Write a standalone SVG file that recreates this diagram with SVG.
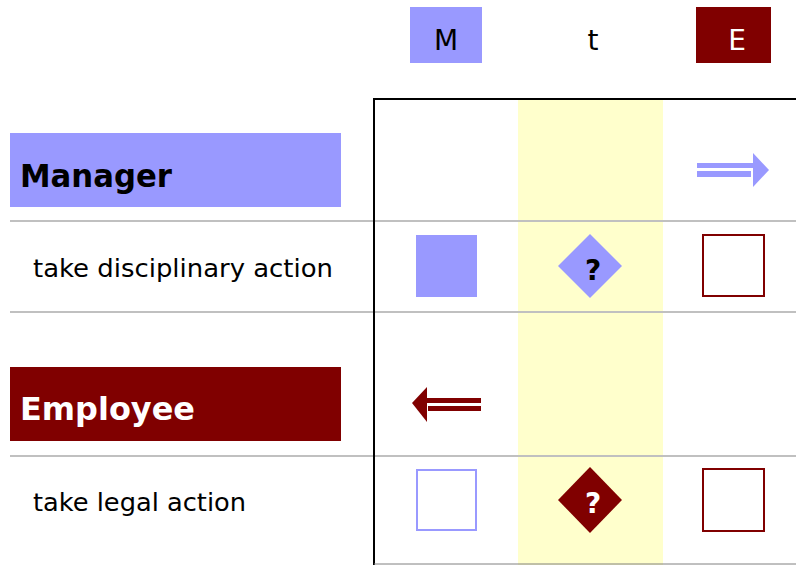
<svg xmlns="http://www.w3.org/2000/svg" width="796" height="565" viewBox="0 0 796 565">
<style>
  text { font-family: "DejaVu Sans", Verdana, sans-serif; }
  .lbl { font-size: 25px; fill: #000; }
  .hdr { font-size: 32px; font-weight: bold; }
  .col { font-size: 28px; text-anchor: middle; }
  .q { font-size: 28px; font-weight: bold; text-anchor: middle; }
  .sep { stroke: #c0c0c0; stroke-width: 2; }
</style>
<rect x="0" y="0" width="796" height="565" fill="#ffffff"/>
<rect x="518" y="100" width="145" height="465" fill="#ffffcc"/>
<g id="grid">
  <line class="sep" x1="10" y1="221" x2="796" y2="221"/>
  <line class="sep" x1="10" y1="312" x2="796" y2="312"/>
  <line class="sep" x1="10" y1="456" x2="796" y2="456"/>
  <line x1="373" y1="99" x2="796" y2="99" stroke="#000" stroke-width="2"/>
  <line x1="374" y1="98" x2="374" y2="565" stroke="#000" stroke-width="2"/>
  <line x1="374" y1="564" x2="796" y2="564" stroke="#808080" stroke-width="1"/>
</g>
<g id="colM">
  <rect x="410" y="7" width="72" height="56" fill="#9999ff"/>
  <text class="col" x="446" y="50" fill="#000">M</text>
</g>
<g id="colT">
  <text class="col" x="593" y="50" fill="#000">t</text>
</g>
<g id="colE">
  <rect x="696" y="7" width="75" height="56" fill="#800000"/>
  <text class="col" x="737" y="50" fill="#fff">E</text>
</g>
<g id="manager">
  <rect x="10" y="133" width="331" height="74" fill="#9999ff"/>
  <text class="hdr" x="20" y="187" fill="#000" textLength="152" lengthAdjust="spacingAndGlyphs">Manager</text>
</g>
<g id="employee">
  <rect x="10" y="367" width="331" height="74" fill="#800000"/>
  <text class="hdr" x="20" y="420" fill="#fff" textLength="175" lengthAdjust="spacingAndGlyphs">Employee</text>
</g>
<g id="row1">
  <text class="lbl" x="33" y="277" textLength="300" lengthAdjust="spacingAndGlyphs">take disciplinary action</text>
  <rect x="416" y="235" width="61" height="62" fill="#9999ff"/>
  <polygon points="590,234 622,266 590,298 558,266" fill="#9999ff"/>
  <text class="q" x="593" y="280" fill="#000">?</text>
  <rect x="703" y="235" width="61" height="61" fill="none" stroke="#800000" stroke-width="2"/>
</g>
<g id="row2">
  <text class="lbl" x="33" y="511" textLength="213" lengthAdjust="spacingAndGlyphs">take legal action</text>
  <rect x="417" y="470" width="59" height="60" fill="none" stroke="#9999ff" stroke-width="2"/>
  <polygon points="590,467 622,500 590,533 558,500" fill="#800000"/>
  <text class="q" x="593" y="513" fill="#fff">?</text>
  <rect x="703" y="469" width="61" height="62" fill="none" stroke="#800000" stroke-width="2"/>
</g>
<g id="connectors">
  <g id="arrowRight" fill="#9999ff">
    <rect x="697" y="163" width="58" height="5"/>
    <rect x="697" y="171" width="54" height="6"/>
    <polygon points="753,153 769,170 753,187"/>
  </g>
  <g id="arrowLeft" fill="#800000">
    <rect x="424" y="398" width="57" height="5"/>
    <rect x="428" y="406" width="53" height="5"/>
    <polygon points="427,387 412,403 427,422"/>
  </g>
</g>
</svg>
